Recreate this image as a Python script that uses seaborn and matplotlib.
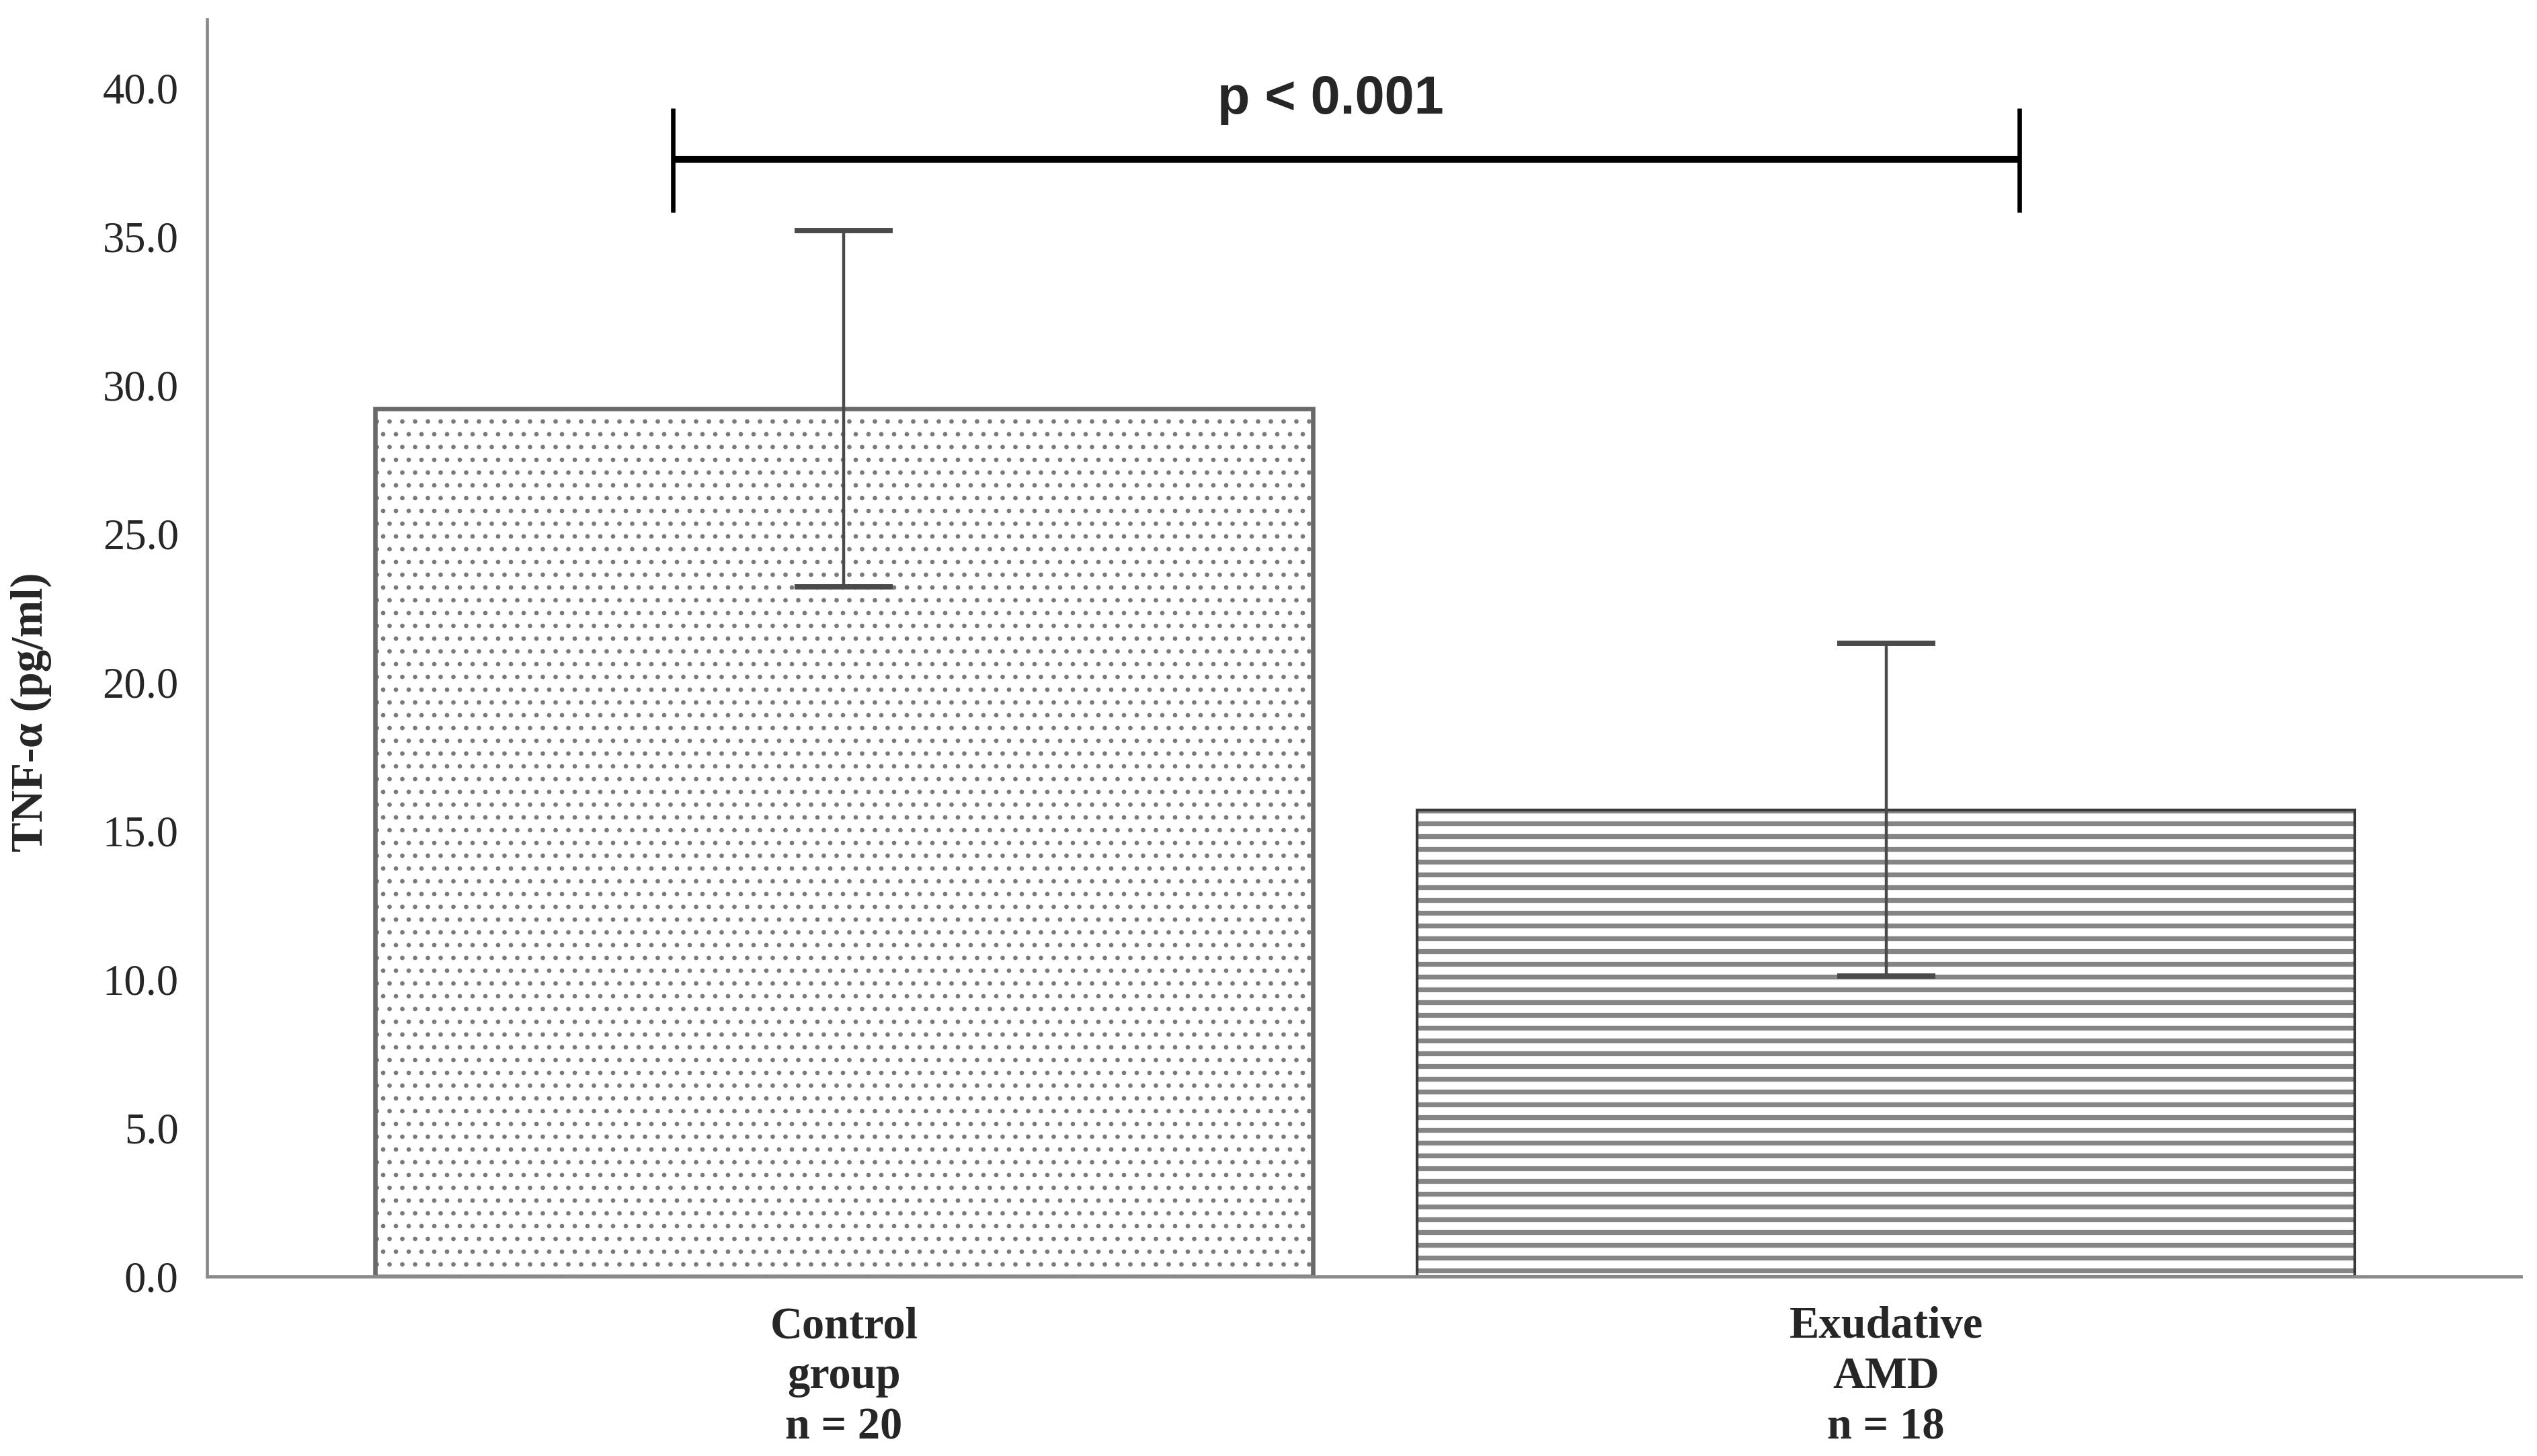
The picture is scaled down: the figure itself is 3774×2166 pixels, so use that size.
import numpy as np
import pandas as pd
import matplotlib
matplotlib.use("Agg")
import matplotlib.pyplot as plt
from matplotlib.patches import Rectangle
import seaborn as sns

#%% Data
groups = ["Control\ngroup\nn = 20", "Exudative\nAMD\nn = 18"]
tnf_mean = [29.2, 15.7]
tnf_sd = [6.0, 5.6]
yticks = [0.0, 5.0, 10.0, 15.0, 20.0, 25.0, 30.0, 35.0, 40.0]
p_text = "p < 0.001"

df = pd.DataFrame({"group": groups, "tnf": tnf_mean})

#%% Style
sns.set_style("white")
plt.rcParams["font.family"] = ["Liberation Serif", "DejaVu Serif"]
plt.rcParams["hatch.linewidth"] = 2.2

DPI = 228
fig = plt.figure(figsize=(3774 / DPI, 2166 / DPI), dpi=DPI)
ax = fig.add_axes([0.0816, 0.1233, 0.912, 0.8634])

sns.barplot(data=df, x="group", y="tnf", ax=ax, width=0.9,
            color="white", errorbar=None, saturation=1)

# hatches: stipple for control, horizontal lines for AMD
hatches = ["..", "--"]
hatch_ec = ["#7a7a7a", "#858585"]
hatch_lw = [0.9, 2.3]
outline_ec = ["#6a6a6a", "#3a3a3a"]
outline_lw = [2.1, 1.3]
for p, h, hc, hl, oc, lw in zip(ax.patches, hatches, hatch_ec, hatch_lw, outline_ec, outline_lw):
    p.set_hatch(h)
    p.set_edgecolor(hc)
    p.set_linewidth(0)
    if hasattr(p, "set_hatch_linewidth"):
        p.set_hatch_linewidth(hl)
    ax.add_patch(Rectangle(p.get_xy(), p.get_width(), p.get_height(),
                           fill=False, ec=oc, lw=lw, zorder=p.get_zorder() + 0.1))

# error bars (mean +/- SD)
ax.errorbar(x=np.arange(len(groups)), y=tnf_mean, yerr=tnf_sd, fmt="none",
            ecolor="#4a4a4a", elinewidth=1.4, capsize=23, capthick=2.5, zorder=5)

# significance bracket
x0, x1, yb = -0.164, 1.128, 37.6
ax.plot([x0, x1], [yb, yb], color="black", lw=3.2, solid_capstyle="butt", zorder=6)
for xe in (x0, x1):
    ax.plot([xe, xe], [35.8, 39.3], color="black", lw=2.1, solid_capstyle="butt", zorder=6)
ax.text(0.467, 39.6, p_text, ha="center", va="center", fontsize=25,
        fontweight="bold", family=["Liberation Sans", "DejaVu Sans"])

#%% Axes
ax.set_xlim(-0.611, 1.609)
ax.set_ylim(0, 42.3)
ax.set_yticks(yticks)
ax.set_yticklabels(["{:.1f}".format(v) for v in yticks], fontsize=20.4)
ax.tick_params(axis="y", length=0, pad=13.3)
ax.tick_params(axis="x", length=0, pad=14)
for lab in ax.get_xticklabels():
    lab.set_fontweight("bold")
    lab.set_fontsize(21)
    lab.set_linespacing(1.3)

ax.set_xlabel("")
ax.set_ylabel("TNF-α (pg/ml)", fontsize=21, fontweight="bold")
ax.yaxis.set_label_coords(-0.067, 0.449)

sns.despine(ax=ax)
for side in ("left", "bottom"):
    ax.spines[side].set_color("#8a8a8a")
    ax.spines[side].set_linewidth(1.5)

plt.savefig("out.png", dpi=DPI)
plt.close()
